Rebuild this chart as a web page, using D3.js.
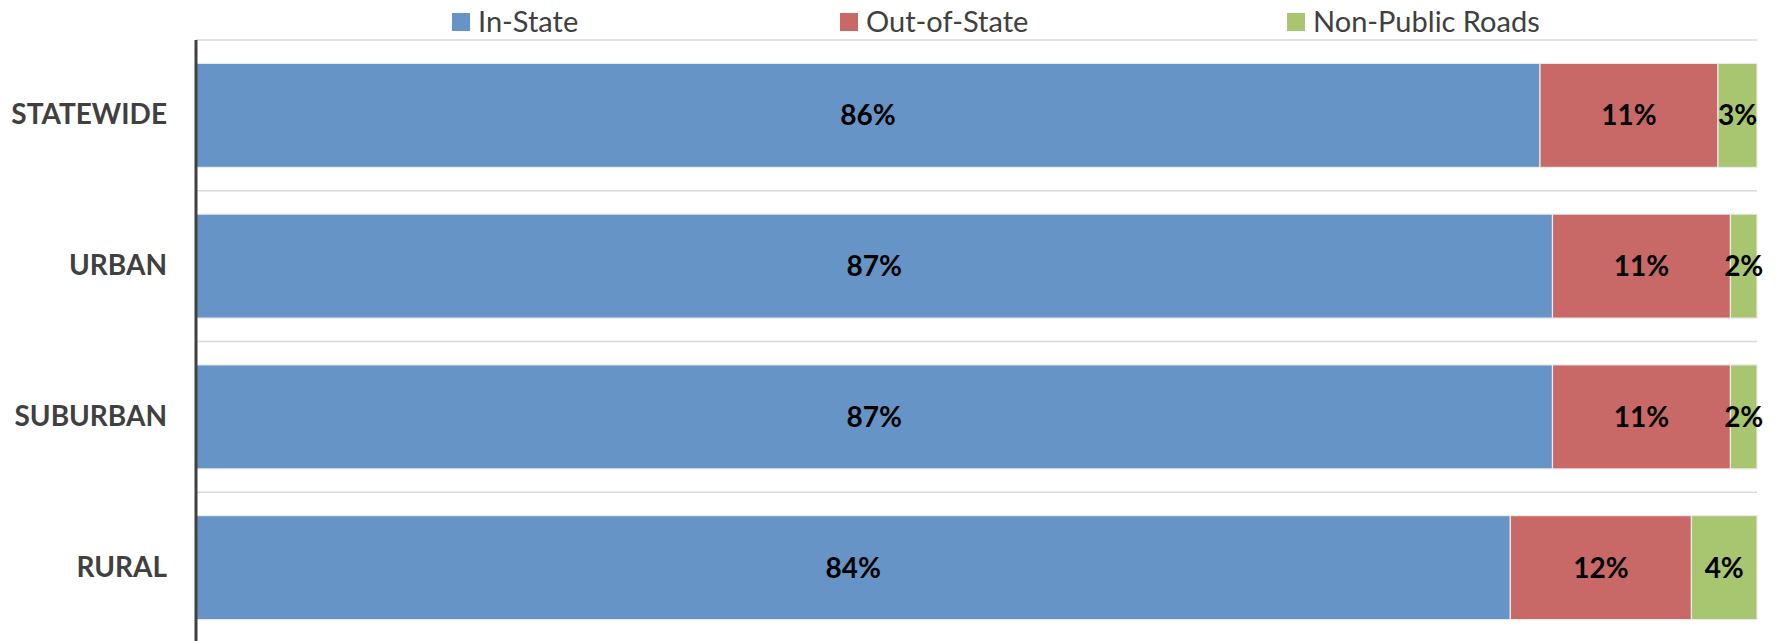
<!DOCTYPE html>
<html>
<head>
<meta charset="utf-8">
<script src="https://cdn.jsdelivr.net/npm/d3@7/dist/d3.min.js"></script>
<style>
  body { margin: 0; background: #fff; }
  svg { display: block; }
</style>
</head>
<body>
<div class="content"></div>
<script>

var categories = ["STATEWIDE", "URBAN", "SUBURBAN", "RURAL"];
var seriesNames = ["In-State", "Out-of-State", "Non-Public Roads"];
var seriesColors = ["#6794c7", "#c96967", "#a8c56f"];

// share of each area
var inState    = [86.1, 86.9, 86.9, 84.2];
var outOfState = [11.4, 11.4, 11.4, 11.6];
var nonPublic  = [2.5, 1.7, 1.7, 4.2];

// labels as printed on the bars
var inStateLabels    = ["86%", "87%", "87%", "84%"];
var outOfStateLabels = ["11%", "11%", "11%", "12%"];
var nonPublicLabels  = ["3%", "2%", "2%", "4%"];

var width = 1781, height = 641;

var svg = d3.select(".content").append("svg")
   .attr("width", width)
   .attr("height", height);

var x = d3.scaleLinear().domain([0, 100]).range([196, 1757]);
var y = d3.scaleBand().domain(categories).range([40, 643])
   .paddingInner(0.31).paddingOuter(0.155);

var rows = categories.map(function(c, i) {
   return { name: c, "In-State": inState[i], "Out-of-State": outOfState[i], "Non-Public Roads": nonPublic[i],
            labels: [inStateLabels[i], outOfStateLabels[i], nonPublicLabels[i]] };
});

var stack = d3.stack().keys(seriesNames)(rows);

// gridlines on the band boundaries
var step = y.step();
var gridY = categories.map(function(c) { return y(c) - (step - y.bandwidth()) / 2; });
svg.selectAll("line.grid")
   .data(gridY)
   .enter().append("line")
   .attr("class", "grid")
   .attr("x1", x(0)).attr("x2", x(100))
   .attr("y1", function(d) { return d; })
   .attr("y2", function(d) { return d; })
   .attr("stroke", "#d9d9d9")
   .attr("stroke-width", 1.5);

// bars
stack.forEach(function(layer, k) {
   svg.append("g").selectAll("rect")
      .data(layer)
      .enter().append("rect")
      .attr("x", function(d) { return x(d[0]); })
      .attr("y", function(d) { return y(d.data.name); })
      .attr("width", function(d) { return x(d[1]) - x(d[0]); })
      .attr("height", y.bandwidth())
      .attr("fill", seriesColors[k])
      .attr("stroke", "#ececec")
      .attr("stroke-width", 1.2);
});

// value labels
stack.forEach(function(layer, k) {
   svg.append("g").selectAll("text")
      .data(layer)
      .enter().append("text")
      .attr("x", function(d) { return (x(d[0]) + x(d[1])) / 2; })
      .attr("y", function(d) { return y(d.data.name) + y.bandwidth() / 2; })
      .attr("dy", "0.36em")
      .attr("text-anchor", "middle")
      .style("font-family", "Lato, 'Open Sans', sans-serif")
      .style("font-weight", "bold")
      .style("font-size", "28px")
      .attr("fill", "#000")
      .text(function(d) { return d.data.labels[k]; });
});

// category axis
var yAxis = d3.axisLeft(y).tickSize(0).tickPadding(29);
var ag = svg.append("g")
   .attr("transform", "translate(" + x(0) + ",0)")
   .call(yAxis);
ag.select(".domain").remove();
ag.selectAll("text")
   .style("font-family", "Lato, 'Open Sans', sans-serif")
   .style("font-weight", "bold")
   .style("font-size", "28px")
   .attr("fill", "#404040");

svg.append("line")
   .attr("x1", x(0)).attr("x2", x(0))
   .attr("y1", 40).attr("y2", height)
   .attr("stroke", "#404040")
   .attr("stroke-width", 3);

// legend
var legendX = [452, 840, 1287];
var legend = svg.selectAll("g.legend")
   .data(seriesNames)
   .enter().append("g")
   .attr("class", "legend")
   .attr("transform", function(d, i) { return "translate(" + legendX[i] + ",0)"; });

legend.append("rect")
   .attr("x", 0).attr("y", 13)
   .attr("width", 18).attr("height", 18)
   .attr("fill", function(d, i) { return seriesColors[i]; });

legend.append("text")
   .attr("x", 26).attr("y", 32)
   .style("font-family", "Lato, 'Open Sans', sans-serif")
   .style("font-size", "29px")
   .attr("fill", "#404040")
   .text(function(d) { return d; });

</script>
</body>
</html>
